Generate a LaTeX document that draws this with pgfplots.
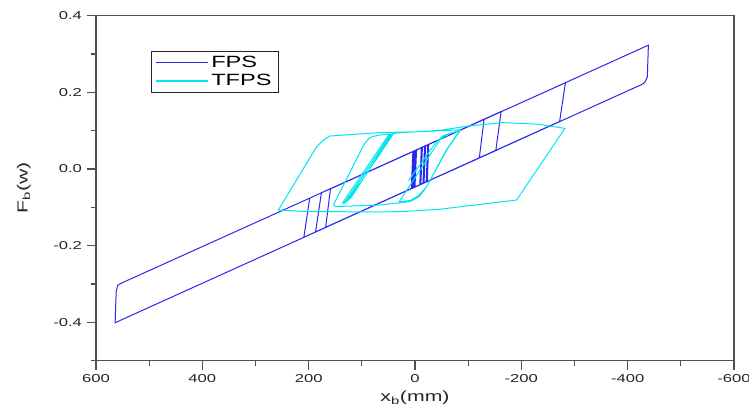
\documentclass[border=0pt]{standalone}
\usepackage{pgfplots}
\pgfplotsset{compat=1.18}
\usepackage{fontspec}
\setmainfont{Liberation Sans}[FakeStretch=1.45]
\definecolor{fps}{RGB}{40,40,240}
\definecolor{tfps}{RGB}{0,230,240}
\definecolor{axgray}{RGB}{80,80,80}

\begin{document}
\begin{tikzpicture}
\path[use as bounding box] (-72pt,-36.2pt) rectangle (489.75pt,270.5pt);
\begin{axis}[
    scale only axis,
    width=478.5pt, height=258.75pt,
    at={(0,0)}, anchor=south west,
    x dir=reverse,
    xmin=-600, xmax=600,
    ymin=-0.5, ymax=0.4,
    xtick={-600,-400,-200,0,200,400,600},
    xticklabels={-600,-400,-200,0,200,400,600},
    minor xtick={-500,-300,-100,100,300,500},
    ytick={-0.4,-0.2,0,0.2,0.4},
    yticklabels={-0.4,-0.2,0.0,0.2,0.4},
    minor ytick={-0.5,-0.3,-0.1,0.1,0.3},
    tick align=outside,
    xtick pos=bottom, ytick pos=left,
    major tick length=7pt, minor tick length=4pt,
    every tick/.style={axgray, line width=0.9pt},
    axis line style={axgray, line width=1.1pt},
    tick label style={font=\fontsize{8.6}{10}\selectfont, text=black!85},
    every axis x label/.style={at={(axis description cs:0.5,-0.108)}, anchor=center},
    every axis y label/.style={at={(axis description cs:-0.113,0.5)}, anchor=center, rotate=90},
    label style={font=\fontsize{11}{13}\selectfont, text=black!85},
    xlabel={x\textsubscript{b}(mm)},
    ylabel={F\textsubscript{b}(w)},
    legend style={at={(0.0857,0.899)}, anchor=north west, draw=black!85, line width=0.9pt,
        font=\fontsize{12.2}{14}\selectfont, inner xsep=3pt, inner ysep=1.5pt, row sep=0pt},
    legend cell align=left,
    legend image code/.code={\draw[#1, line width=1pt] (0pt,0pt) -- (39pt,0pt);},
]
\addplot[draw=fps, line width=0.75pt] coordinates {
(0,0) (-2,0.049) (-18,0.059) (-15,-0.037) (4,-0.050) (1,0.047)
(-24,0.063) (-21,-0.034) (7,-0.051) (4,0.045) (-26,0.064) (-23,-0.033)
(2,-0.048) (-1,0.049) (-20,0.061) (-17,-0.036) (5,-0.050) (2,0.047)
(-12,0.056) (-9,-0.041) (6,-0.050) (3,0.046) (-14,0.057) (-11,-0.040) (0,-0.047)
(-3,0.050)
(-130,0.130) (-121,0.029) (209,-0.178) (198,-0.076)
(-162,0.150) (-152,0.048) (187,-0.164) (176,-0.062)
(-283,0.225) (-272,0.124) (168,-0.152) (159,-0.052)
(-439,0.323) (-437,0.240) (-433,0.228) (-429,0.222)
(564,-0.401) (562,-0.320) (559,-0.303) (551,-0.297)
(0,0.048)
};
\addlegendentry{FPS}
\addplot[draw=tfps, line width=0.75pt] coordinates {
(12,-0.030) (-40,0.070) (-52,0.086) (-66,0.093) (-85,0.100)
(-62,0.055) (-22,-0.046) (-8,-0.072) (9,-0.085) (66,-0.094) (150,-0.098)
(153,-0.092) (95,0.066) (85,0.082) (70,0.088) (50,0.091) (45,0.090)
(100,-0.022) (120,-0.070) (128,-0.083) (136,-0.088)
(50,0.088) (42,0.092) (120,-0.074) (130,-0.086)
(48,0.086) (40,0.093) (115,-0.062) (126,-0.082) (132,-0.087)
(44,0.091) (35,0.094)
(-47,0.101) (-100,0.112) (-166,0.121) (-230,0.117) (-282,0.106)
(-191,-0.081) (-100,-0.096) (-47,-0.105) (22,-0.111) (66,-0.112)
(204,-0.111) (257,-0.107)
(185,0.058) (172,0.076) (160,0.086) (66,0.095) (0,0.097) (-85,0.102)
(-60,0.052) (-22,-0.046) (-6,-0.070) (9,-0.082) (30,-0.086)
(-47,0.076) (-55,0.085) (-62,0.088)
};
\addlegendentry{TFPS}
\end{axis}
\end{tikzpicture}
\end{document}
